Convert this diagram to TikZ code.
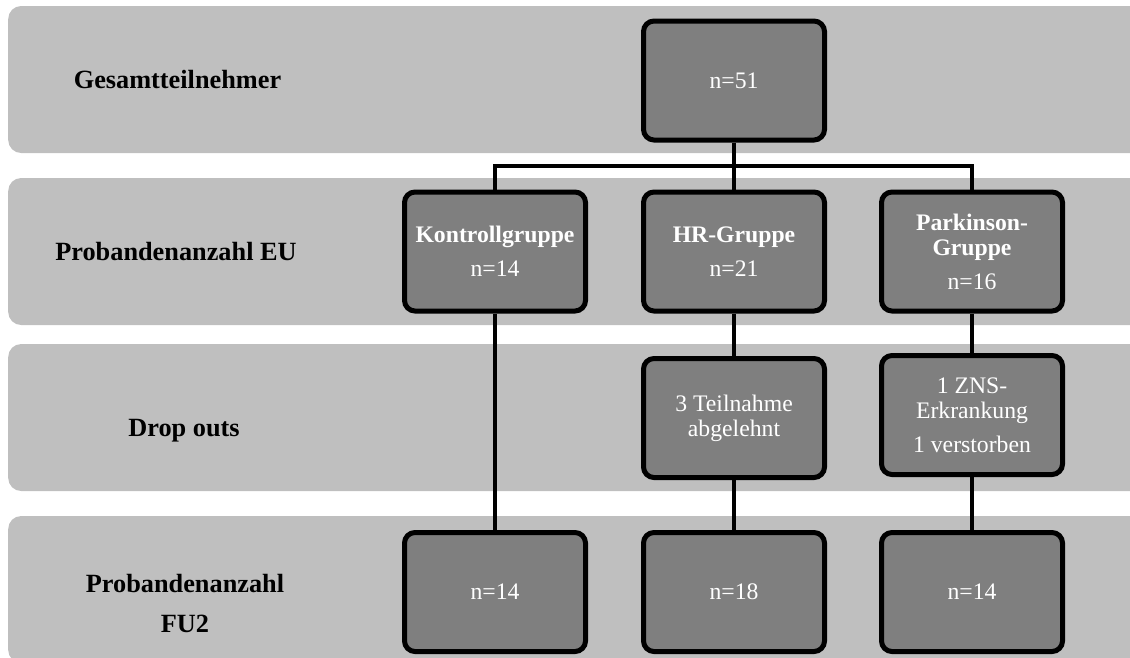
\documentclass[tikz,border=0pt]{standalone}
\usepackage{fontspec}
\setmainfont{Liberation Serif}
\definecolor{bandgray}{HTML}{BFBFBF}
\definecolor{boxgray}{HTML}{7F7F7F}
\begin{document}
\begin{tikzpicture}[x=1pt,y=-1pt,
  band/.style={fill=bandgray, draw=none, rounded corners=13pt,
    minimum width=1160pt, minimum height=147pt, inner sep=0pt, anchor=west},
  stage/.style={fill=boxgray, draw=black, line width=5pt, rounded corners=10.5pt,
    minimum width=181pt, minimum height=119pt, inner sep=2pt, align=center,
    text=white, font=\fontsize{23.7}{25}\selectfont},
  rowlabel/.style={font=\bfseries\fontsize{26.3}{30}\selectfont,
    align=center, inner sep=0pt},
  link/.style={line width=4.3pt}]
\useasboundingbox (0,0) rectangle (1130,657);

% horizontal bands, one per study stage
\node[band] (b1) at (8,79.5) {};
\node[band] (b2) at (8,251.5) {};
\node[band] (b3) at (8,417.5) {};
\node[band] (b4) at (8,589.5) {};

% row captions
\node[rowlabel] (l1) at (177.5,79.5) {Gesamtteilnehmer};
\node[rowlabel] (l2) at (176,251) {Probandenanzahl EU};
\node[rowlabel] (l3) at (184,431) {Drop outs};
\node[rowlabel] (l4) at (185,603.4) {Probandenanzahl\\[9.3pt]FU2};

% participant boxes
\node[stage] (all) at (734,80.5) {n=51};
\node[stage] (kg) at (495,251.5) {\textbf{Kontrollgruppe}\\[9pt]n=14};
\node[stage] (hr) at (734,251.5) {\textbf{HR-Gruppe}\\[9pt]n=21};
\node[stage] (pk) at (972,251.5) {\textbf{Parkinson-}\\\textbf{Gruppe}\\[9pt]n=16};
\node[stage] (hrd) at (734,418) {3 Teilnahme\\abgelehnt};
\node[stage] (pkd) at (972,415) {1 ZNS-\\Erkrankung\\[9pt]1 verstorben};
\node[stage] (kg2) at (495,592) {n=14};
\node[stage] (hr2) at (734,592) {n=18};
\node[stage] (pk2) at (972,592) {n=14};

% connectors
\coordinate (bus) at (734,166);
\draw[link] (all.south) -- (hr.north);
\draw[link] (kg.north) |- (bus) -| (pk.north);
\draw[link] (kg.south) -- (kg2.north);
\draw[link] (hr.south) -- (hrd.north);
\draw[link] (hrd.south) -- (hr2.north);
\draw[link] (pk.south) -- (pkd.north);
\draw[link] (pkd.south) -- (pk2.north);
\end{tikzpicture}
\end{document}
